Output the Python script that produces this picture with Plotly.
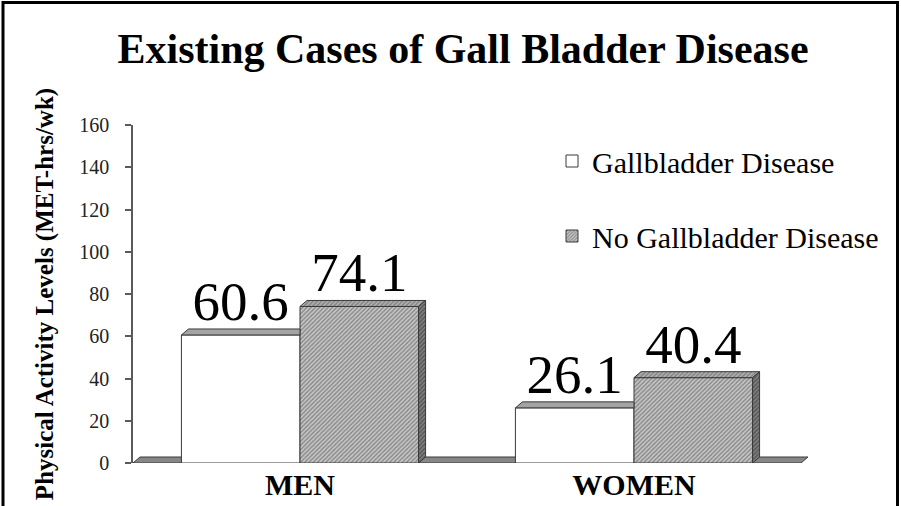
import plotly.graph_objects as go

# ---- data ----
categories = ["MEN", "WOMEN"]
series_names = ["Gallbladder Disease", "No Gallbladder Disease"]
gallbladder = [60.6, 26.1]
no_gallbladder = [74.1, 40.4]
y_ticks = [0, 20, 40, 60, 80, 100, 120, 140, 160]

# ---- layout constants ----
W, H = 901, 506
ML, MR, MT, MB = 133, 93, 125, 43
BARGAP = 0.29
DX = 0.021   # 3-D depth in x units
DY = 2.84    # 3-D depth in y units
XMIN, XMAX = -0.5, 1.5 + DX
SERIF = "Liberation Serif, Times New Roman, serif"

xs = list(range(len(categories)))
bw = (1 - BARGAP) / 2
offs = [-bw / 2, bw / 2]

fig = go.Figure()

fig.add_bar(
    x=xs, y=gallbladder, name=series_names[0], legendgroup="g1",
    marker=dict(color="white", line=dict(color="#3a3a3a", width=1)),
    text=[f"{v:.1f}" for v in gallbladder], textposition="outside",
    textfont=dict(family=SERIF, size=55, color="black"),
    cliponaxis=False, hoverinfo="skip",
)
fig.add_bar(
    x=xs, y=no_gallbladder, name=series_names[1], legendgroup="g2",
    marker=dict(color="#b8b8b8",
                pattern=dict(shape="/", fgcolor="#3c3c3c", bgcolor="#c6c6c6",
                             size=3, solidity=0.4),
                line=dict(color="#3a3a3a", width=1)),
    text=[f"{v:.1f}" for v in no_gallbladder], textposition="outside",
    textfont=dict(family=SERIF, size=55, color="black"),
    cliponaxis=False, hoverinfo="skip",
)

# 3-D faces derived from the values
for i, xi in enumerate(xs):
    # white bar top face
    x0 = xi + offs[0] - bw / 2
    x1 = xi + offs[0] + bw / 2
    v = gallbladder[i]
    fig.add_scatter(x=[x0, x1, x1, x0 + DX, x0], y=[v, v, v + DY, v + DY, v],
                    fill="toself", fillcolor="#a4a4a4", mode="lines",
                    line=dict(color="#3a3a3a", width=1), showlegend=False,
                    hoverinfo="skip")
    # hatched bar top + side faces
    x0 = xi + offs[1] - bw / 2
    x1 = xi + offs[1] + bw / 2
    v = no_gallbladder[i]
    fig.add_scatter(x=[x0, x1, x1 + DX, x0 + DX, x0], y=[v, v, v + DY, v + DY, v],
                    fill="toself", mode="lines",
                    fillpattern=dict(shape="/", fgcolor="#484848", bgcolor="#b0b0b0",
                                     size=3, solidity=0.4),
                    line=dict(color="#3a3a3a", width=1), showlegend=False,
                    hoverinfo="skip")
    fig.add_scatter(x=[x1, x1 + DX, x1 + DX, x1, x1], y=[0, DY, v + DY, v, 0],
                    fill="toself", mode="lines",
                    fillpattern=dict(shape="/", fgcolor="#262626", bgcolor="#808080",
                                     size=3, solidity=0.45),
                    line=dict(color="#3a3a3a", width=1), showlegend=False,
                    hoverinfo="skip")

# floor
fig.add_shape(type="path", xref="x", yref="y", layer="below",
              path=f"M{XMIN},0 L{XMAX - DX},0 L{XMAX},{DY} L{XMIN + DX},{DY} Z",
              fillcolor="#878787", line=dict(color="#3a3a3a", width=1))

# outer frame
pw = W - ML - MR
ph = H - MT - MB
def px_x(p):
    return (p - ML) / pw
def px_y(p):
    return (H - MB - p) / ph
fig.add_shape(type="rect", xref="paper", yref="paper",
              x0=px_x(3), x1=px_x(897.5), y0=px_y(515), y1=px_y(2.5),
              line=dict(color="black", width=3), fillcolor="rgba(0,0,0,0)")

fig.update_layout(
    width=W, height=H,
    margin=dict(l=ML, r=MR, t=MT, b=MB, autoexpand=False),
    paper_bgcolor="white", plot_bgcolor="white",
    barmode="group", bargap=BARGAP, bargroupgap=0,
    title=dict(text="Existing Cases of Gall Bladder Disease",
               font=dict(family=SERIF, size=42, color="black", weight="bold"),
               x=463 / W, xref="container", xanchor="center",
               y=1 - 34 / H, yref="container", yanchor="top"),
    legend=dict(x=px_x(552), y=px_y(135), xanchor="left", yanchor="top",
                font=dict(family=SERIF, size=30, color="black"),
                bgcolor="rgba(0,0,0,0)", tracegroupgap=33,
                itemclick=False, itemdoubleclick=False),
    showlegend=True,
)
fig.update_xaxes(
    range=[XMIN, XMAX], tickmode="array", tickvals=xs, ticktext=categories,
    showline=False, showgrid=False, zeroline=False, ticks="",
    tickfont=dict(family=SERIF, size=30, color="black", weight="bold"),
    ticklabelstandoff=1,
)
fig.update_yaxes(
    range=[0, 160], tickmode="array", tickvals=y_ticks,
    showline=True, linecolor="#5a5a5a", linewidth=1.5,
    ticks="outside", ticklen=6, tickcolor="#5a5a5a", tickwidth=1.5,
    showgrid=False, zeroline=False,
    tickfont=dict(family=SERIF, size=20, color="#222222"),
    ticklabelstandoff=12,
    title=dict(text="Physical Activity Levels (MET-hrs/wk)",
               font=dict(family=SERIF, size=25, color="black", weight="bold"),
               standoff=19),
)

fig.write_html("out.html",
               config={"displayModeBar": False},
               post_script="document.body.style.margin='0';document.body.style.overflow='hidden';")
